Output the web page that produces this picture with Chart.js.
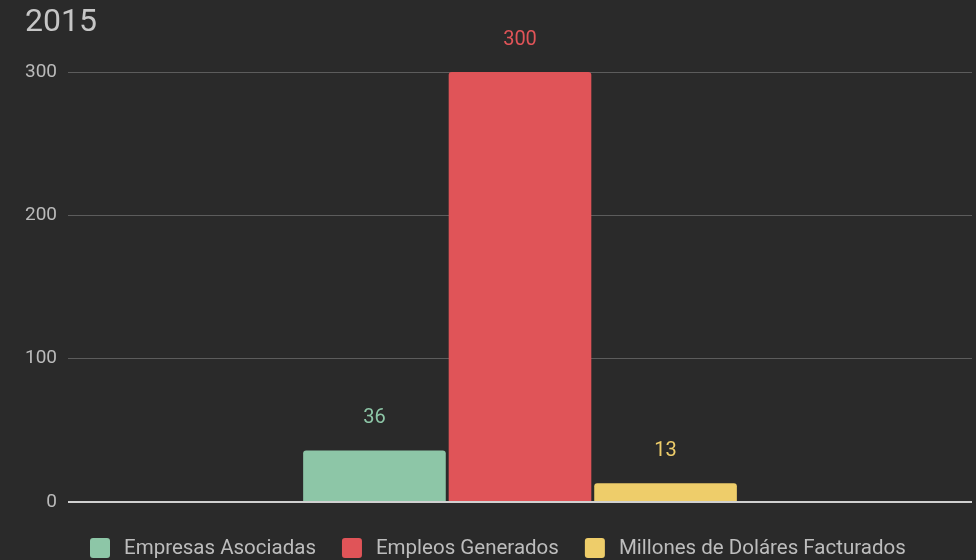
<!DOCTYPE html>
<html>
<head>
<meta charset="utf-8">
<script src="https://cdn.jsdelivr.net/npm/chart.js@4"></script>
<style>
  html, body { margin: 0; padding: 0; background: #2a2a2a; }
  #wrap { width: 976px; height: 560px; }
</style>
</head>
<body>
<div id="wrap"><canvas id="chart" width="976" height="560"></canvas></div>
<script>
const categories = ['2015'];
const seriesNames = ['Empresas Asociadas', 'Empleos Generados', 'Millones de Doláres Facturados'];
const seriesValues = [[36], [300], [13]];
const seriesColors = ['#8dc6a7', '#e05458', '#eecd6a'];
const yTicks = [0, 100, 200, 300];
const chartTitle = '2015';

// title, value labels and legend are drawn by hand so they sit where the original has them
const extras = {
  id: 'extras',
  afterDraw(chart) {
    const ctx = chart.ctx;
    ctx.save();

    // title
    ctx.font = '32px Roboto';
    ctx.fillStyle = '#c6c6c6';
    ctx.textAlign = 'left';
    ctx.textBaseline = 'alphabetic';
    ctx.fillText(chartTitle, 25, 31);

    // value above each bar
    ctx.font = '20px Roboto';
    ctx.textAlign = 'center';
    ctx.textBaseline = 'middle';
    chart.data.datasets.forEach((ds, i) => {
      chart.getDatasetMeta(i).data.forEach((bar, j) => {
        ctx.fillStyle = ds.backgroundColor;
        ctx.fillText(ds.data[j], bar.x, bar.y - 32);
      });
    });

    // legend
    const box = 20, gap = 14, itemGap = 26, cy = 548;
    ctx.font = '20.5px Roboto';
    ctx.textAlign = 'left';
    let x = 90;
    chart.data.datasets.forEach(ds => {
      ctx.fillStyle = ds.backgroundColor;
      ctx.beginPath();
      ctx.roundRect(x, cy - box / 2, box, box, 3);
      ctx.fill();
      ctx.fillStyle = '#bdbdbd';
      ctx.fillText(ds.label, x + box + gap, cy + 1);
      x += box + gap + ctx.measureText(ds.label).width + itemGap;
    });

    ctx.restore();
  }
};

const ctx = document.getElementById('chart').getContext('2d');
new Chart(ctx, {
  type: 'bar',
  data: {
    labels: categories,
    datasets: seriesNames.map((name, i) => ({
      label: name,
      data: seriesValues[i],
      backgroundColor: seriesColors[i],
      borderRadius: { topLeft: 3, topRight: 3 },
      borderSkipped: 'bottom',
      categoryPercentage: 0.483,
      barPercentage: 0.98
    }))
  },
  options: {
    responsive: false,
    animation: false,
    layout: { padding: { left: 0, right: 4, top: 72, bottom: 58 } },
    plugins: {
      title: { display: false },
      legend: { display: false },
      tooltip: { enabled: false }
    },
    scales: {
      x: { display: false },
      y: {
        min: 0,
        max: 300,
        afterBuildTicks(scale) { scale.ticks = yTicks.map(v => ({ value: v })); },
        afterFit(scale) { scale.width = 68; },
        border: { display: false },
        grid: {
          color: c => c.tick.value === 0 ? '#d0d0d0' : '#5c5c5c',
          lineWidth: c => c.tick.value === 0 ? 2 : 1,
          drawTicks: false
        },
        ticks: {
          color: '#bababa',
          font: { family: 'Roboto', size: 19 },
          padding: 11
        }
      }
    }
  },
  plugins: [extras]
});
</script>
</body>
</html>
